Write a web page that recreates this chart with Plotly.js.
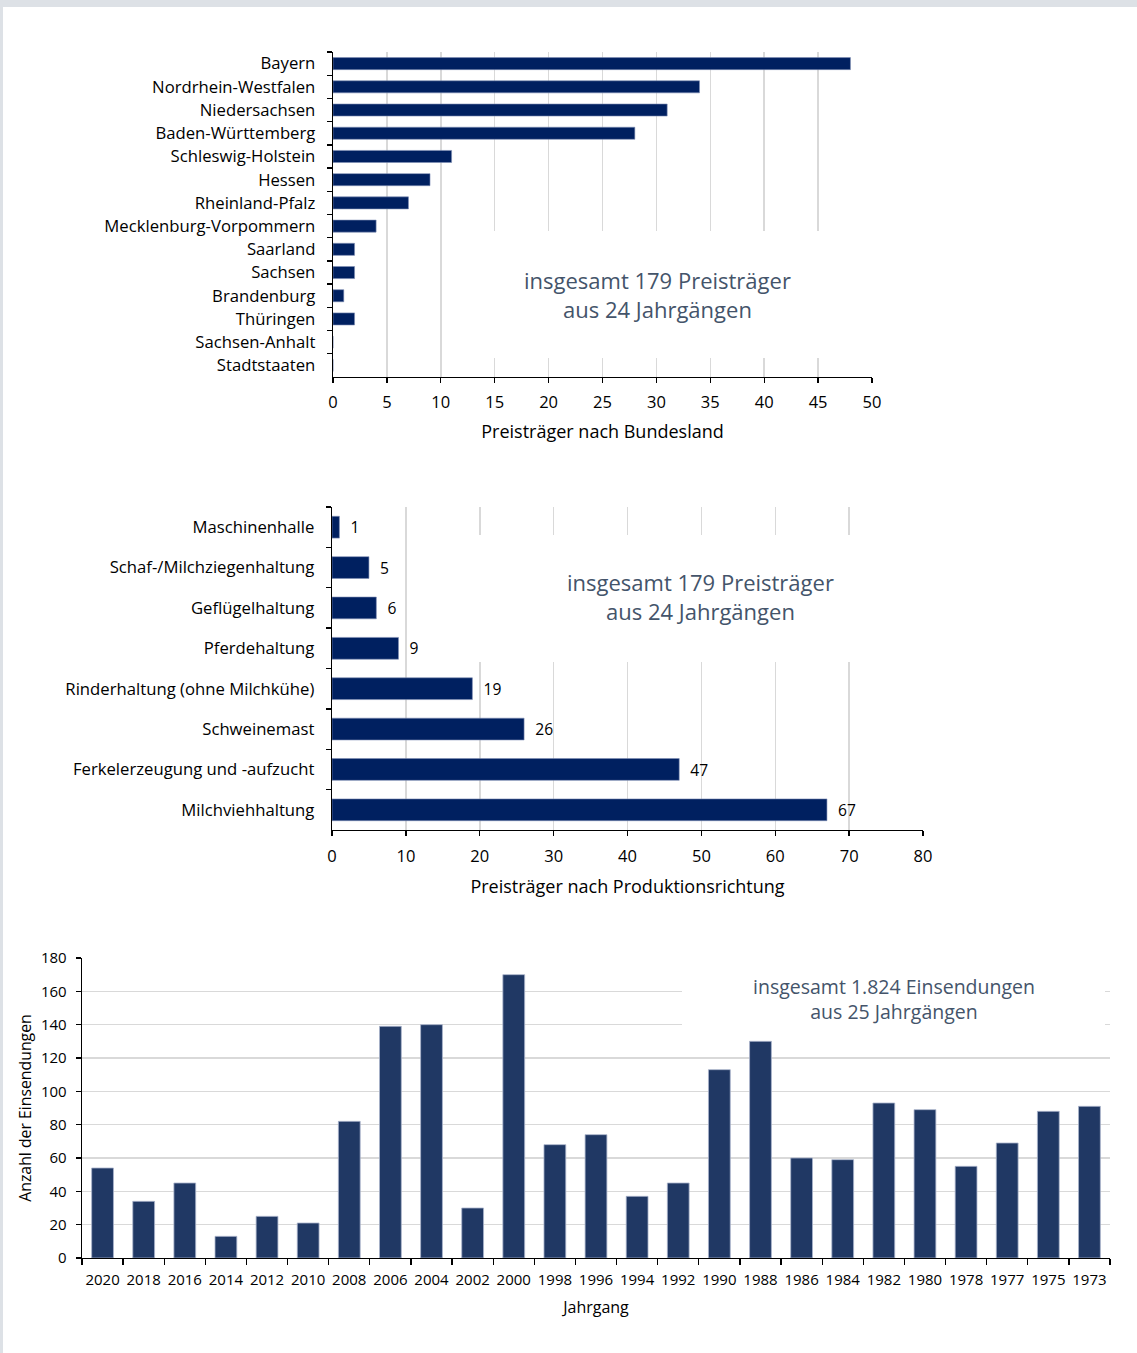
<!DOCTYPE html>
<html>
<head>
<meta charset="utf-8">
<script src="https://cdn.plot.ly/plotly-3.0.1.min.js"></script>
<style>
  html, body { margin: 0; padding: 0; background: #ffffff; }
  #chart { width: 1137px; height: 1353px; }
</style>
</head>
<body>
<div id="chart"></div>
<script>
// ---------- DATA ----------
const states = ["Bayern", "Nordrhein-Westfalen", "Niedersachsen", "Baden-Württemberg",
  "Schleswig-Holstein", "Hessen", "Rheinland-Pfalz", "Mecklenburg-Vorpommern",
  "Saarland", "Sachsen", "Brandenburg", "Thüringen", "Sachsen-Anhalt", "Stadtstaaten"];
const stateWinners = [48, 34, 31, 28, 11, 9, 7, 4, 2, 2, 1, 2, 0, 0];

const branches = ["Maschinenhalle", "Schaf-/Milchziegenhaltung", "Geflügelhaltung",
  "Pferdehaltung", "Rinderhaltung (ohne Milchkühe)", "Schweinemast",
  "Ferkelerzeugung und -aufzucht", "Milchviehhaltung"];
const branchWinners = [1, 5, 6, 9, 19, 26, 47, 67];

const years = ["2020", "2018", "2016", "2014", "2012", "2010", "2008", "2006", "2004",
  "2002", "2000", "1998", "1996", "1994", "1992", "1990", "1988", "1986", "1984",
  "1982", "1980", "1978", "1977", "1975", "1973"];
const submissions = [54, 34, 45, 13, 25, 21, 82, 139, 140, 30, 170, 68, 74, 37, 45,
  113, 130, 60, 59, 93, 89, 55, 69, 88, 91];

const xTitle1 = "Preisträger nach Bundesland";
const xTitle2 = "Preisträger nach Produktionsrichtung";
const xTitle3 = "Jahrgang";
const yTitle3 = "Anzahl der Einsendungen";
const note1 = "insgesamt 179 Preisträger<br>aus 24 Jahrgängen";
const note2 = "insgesamt 179 Preisträger<br>aus 24 Jahrgängen";
const note3 = "insgesamt 1.824 Einsendungen<br>aus 25 Jahrgängen";

// ---------- STYLE ----------
const W = 1137, H = 1353;
const FONT = "Open Sans, Noto Sans, sans-serif";
const NAVY = "#002060";
const NAVY3 = "#203864";
const GRID = "#d9d9d9";
const NOTE = "#44546a";
const px = v => v / W;
const py = v => 1 - v / H;

const traces = [
  {
    type: "bar", orientation: "h", x: stateWinners, y: states,
    xaxis: "x", yaxis: "y", width: 0.52,
    marker: { color: NAVY, line: { color: "#7f8fb5", width: 0.6 } },
    hoverinfo: "x+y"
  },
  {
    type: "bar", orientation: "h", x: branchWinners, y: branches,
    xaxis: "x2", yaxis: "y2", width: 0.54,
    marker: { color: NAVY, line: { color: "#7f8fb5", width: 0.6 } },
    text: branchWinners.map(String),
    texttemplate: "\u00a0\u00a0%{text}",
    textposition: "outside", cliponaxis: false,
    textfont: { family: FONT, size: 16.5, color: "#000000" },
    hoverinfo: "x+y"
  },
  {
    type: "bar", x: years, y: submissions,
    xaxis: "x3", yaxis: "y3", width: 0.53,
    marker: { color: NAVY3, line: { color: "#a9b4cc", width: 0.8 } },
    hoverinfo: "x+y"
  }
];

const labFont = { family: FONT, size: 16.7, color: "#000000" };
const numFont = { family: FONT, size: 16.5, color: "#000000" };
const tickFont3 = { family: FONT, size: 15, color: "#000000" };
const titleFont = { family: FONT, size: 18, color: "#000000" };

function box(cx, cy, w, h) {
  return { xref: "paper", yref: "paper", x: px(cx), y: py(cy), text: " ",
    showarrow: false, xanchor: "center", yanchor: "middle",
    width: w, height: h, bgcolor: "#ffffff", borderpad: 0, borderwidth: 0 };
}
function note(cx, cy, txt, size) {
  return { xref: "paper", yref: "paper", x: px(cx), y: py(cy), text: txt,
    showarrow: false, xanchor: "center", yanchor: "middle", align: "center",
    font: { family: FONT, size: size, color: NOTE } };
}

const layout = {
  width: W, height: H,
  margin: { l: 0, r: 0, t: 0, b: 0 },
  paper_bgcolor: "#ffffff", plot_bgcolor: "rgba(0,0,0,0)",
  showlegend: false,
  font: { family: FONT, color: "#000000" },
  // chart 1
  xaxis: {
    domain: [px(333), px(872)], anchor: "y", range: [0, 50], dtick: 5,
    showgrid: true, gridcolor: GRID, gridwidth: 1.5, zeroline: false,
    showline: true, linecolor: "#000000", linewidth: 1.3,
    ticks: "outside", ticklen: 5, tickcolor: "#000000", tickwidth: 1.3,
    ticklabelstandoff: 5,
    tickfont: numFont, automargin: false, fixedrange: true,
    title: { text: xTitle1, font: titleFont, standoff: 13 }
  },
  yaxis: {
    domain: [py(377), py(52)], anchor: "x", autorange: "reversed", type: "category",
    showgrid: false, zeroline: false,
    showline: true, linecolor: "#000000", linewidth: 1.3,
    ticks: "outside", ticklen: 5, tickcolor: "#000000", tickwidth: 1.3,
    tickson: "boundaries", ticklabelstandoff: 13,
    tickfont: labFont, automargin: false, fixedrange: true
  },
  // chart 2
  xaxis2: {
    domain: [px(332), px(923)], anchor: "y2", range: [0, 80], dtick: 10,
    showgrid: true, gridcolor: GRID, gridwidth: 1.5, zeroline: false,
    showline: true, linecolor: "#000000", linewidth: 1.3,
    ticks: "outside", ticklen: 5, tickcolor: "#000000", tickwidth: 1.3,
    ticklabelstandoff: 6,
    tickfont: numFont, automargin: false, fixedrange: true,
    title: { text: xTitle2, font: titleFont, standoff: 14 }
  },
  yaxis2: {
    domain: [py(830), py(507)], anchor: "x2", autorange: "reversed", type: "category",
    showgrid: false, zeroline: false,
    showline: true, linecolor: "#000000", linewidth: 1.3,
    ticks: "outside", ticklen: 5, tickcolor: "#000000", tickwidth: 1.3,
    tickson: "boundaries", ticklabelstandoff: 13,
    tickfont: labFont, automargin: false, fixedrange: true
  },
  // chart 3
  xaxis3: {
    domain: [px(82), px(1110)], anchor: "y3", type: "category",
    showgrid: false, zeroline: false,
    showline: true, linecolor: "#000000", linewidth: 1.3,
    ticks: "outside", ticklen: 6, tickcolor: "#000000", tickwidth: 1.3,
    tickson: "boundaries", ticklabelstandoff: 8,
    tickfont: tickFont3, tickangle: 0, automargin: false, fixedrange: true,
    title: { text: xTitle3, font: { family: FONT, size: 16, color: "#000000" }, standoff: 13 }
  },
  yaxis3: {
    domain: [py(1258), py(958)], anchor: "x3", range: [0, 180], dtick: 20,
    showgrid: true, gridcolor: GRID, gridwidth: 1.5, zeroline: false,
    showline: true, linecolor: "#000000", linewidth: 1.3,
    ticks: "outside", ticklen: 5, tickcolor: "#000000", tickwidth: 1.3,
    ticklabelstandoff: 6,
    tickfont: tickFont3, automargin: false, fixedrange: true,
    title: { text: yTitle3, font: { family: FONT, size: 15.8, color: "#000000" }, standoff: 5 }
  },
  shapes: [
    { type: "rect", xref: "paper", yref: "paper", x0: 0, x1: 1, y0: py(7), y1: 1,
      fillcolor: "#dde1e6", line: { width: 0 }, layer: "below" },
    { type: "rect", xref: "paper", yref: "paper", x0: 0, x1: px(3), y0: 0, y1: 1,
      fillcolor: "#dde1e6", line: { width: 0 }, layer: "below" }
  ],
  annotations: [
    box(666, 294.5, 392, 127),
    box(694, 598.5, 444, 127),
    box(893.5, 1001, 423, 78),
    note(657, 294.5, note1, 22),
    note(700, 597, note2, 22),
    note(894, 999, note3, 19.5)
  ]
};

Plotly.newPlot("chart", traces, layout, { displayModeBar: false, staticPlot: true });
</script>
</body>
</html>
